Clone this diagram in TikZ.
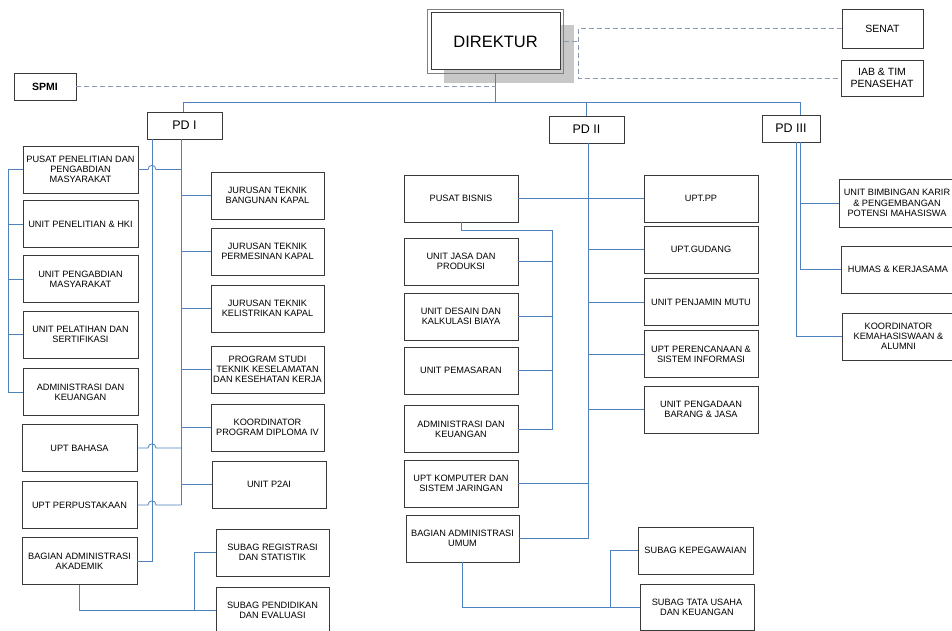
\documentclass[tikz,border=0pt]{standalone}
\usepackage{fontspec}
\setmainfont{Liberation Sans}
\usetikzlibrary{backgrounds}
\definecolor{lnblue}{HTML}{4F81BD}
\definecolor{dashc}{HTML}{8A9BB3}
\definecolor{bord}{HTML}{3A3A3A}
\definecolor{shad}{HTML}{C8C8C8}
\begin{document}
\begin{tikzpicture}[x=1pt,y=-1pt,
  box/.style={draw=bord, line width=0.8pt, fill=white, align=center, inner sep=1pt,
    font=\fontsize{9.2}{10.2}\selectfont, minimum width=114pt, minimum height=47pt},
  pdbox/.style={draw=bord, line width=0.8pt, fill=white, inner sep=1pt,
    font=\fontsize{12.5}{14}\selectfont, minimum width=75pt, minimum height=27pt},
  topbox/.style={draw=bord, line width=0.8pt, fill=white, align=center, inner sep=1pt,
    font=\fontsize{10.5}{12}\selectfont},
  ln/.style={draw=lnblue, line width=0.8pt},
  dl/.style={draw=dashc, line width=0.8pt, dash pattern=on 5pt off 3pt}]
\useasboundingbox (0,0) rectangle (952,631);

% top
\node[draw=bord, line width=1pt, fill=white,
  minimum width=129pt, minimum height=57pt, font=\fontsize{16.5}{18}\selectfont]
  (dir) at (495.5,41.5) {DIREKTUR};
\draw[draw=gray, line width=0.8pt] ([xshift=-3pt,yshift=3pt]dir.north west) rectangle ([xshift=3pt,yshift=-3pt]dir.south east);
\node[topbox, minimum width=81pt, minimum height=39pt] (senat) at (882.5,28.5) {SENAT};
\node[topbox, minimum width=82pt, minimum height=36pt] (iab) at (882,78) {IAB \& TIM\\PENASEHAT};
\node[topbox, minimum width=62pt, minimum height=27pt, font=\fontsize{10.5}{12}\selectfont\bfseries] (spmi) at (45,86.5) {SPMI};

\node[pdbox] (pd1) at (184.5,125.5) {PD I};
\node[pdbox] (pd2) at (586.5,129.5) {PD II};
\node[pdbox, minimum width=58pt] (pd3) at (791,128.5) {PD III};

% PD I left column
\node[box, minimum width=115pt] (a1) at (80.5,169.5) {PUSAT PENELITIAN DAN\\PENGABDIAN\\MASYARAKAT};
\node[box, minimum width=115pt] (a2) at (80.5,224) {UNIT PENELITIAN \& HKI};
\node[box, minimum width=115pt] (a3) at (80.5,279) {UNIT PENGABDIAN\\MASYARAKAT};
\node[box, minimum width=115pt] (a4) at (80.5,334.5) {UNIT PELATIHAN DAN\\SERTIFIKASI};
\node[box, minimum width=115pt] (a5) at (80.5,392) {ADMINISTRASI DAN\\KEUANGAN};
\node[box, minimum width=115pt] (a6) at (79.5,448) {UPT BAHASA};
\node[box, minimum width=115pt] (a7) at (79.5,505) {UPT PERPUSTAKAAN};
\node[box, minimum width=115pt] (a8) at (79.5,561) {BAGIAN ADMINISTRASI\\AKADEMIK};

% PD I right column
\node[box, minimum width=113pt] (b1) at (267.5,195.5) {JURUSAN TEKNIK\\BANGUNAN KAPAL};
\node[box, minimum width=113pt] (b2) at (267.5,251.5) {JURUSAN TEKNIK\\PERMESINAN KAPAL};
\node[box, minimum width=113pt] (b3) at (267.5,308.5) {JURUSAN TEKNIK\\KELISTRIKAN KAPAL};
\node[box, minimum width=113pt] (b4) at (267.5,369.5) {PROGRAM STUDI\\TEKNIK KESELAMATAN\\DAN KESEHATAN KERJA};
\node[box, minimum width=113pt] (b5) at (267.5,427.5) {KOORDINATOR\\PROGRAM DIPLOMA IV};
\node[box, minimum width=114pt] (b6) at (269,484.5) {UNIT P2AI};
\node[box, minimum width=113pt] (s1) at (272.5,552.5) {SUBAG REGISTRASI\\DAN STATISTIK};
\node[box, minimum width=113pt] (s2) at (272.5,610.5) {SUBAG PENDIDIKAN\\DAN EVALUASI};

% PD II left column
\node[box] (c1) at (461,198.5) {PUSAT BISNIS};
\node[box] (c2) at (461,261.5) {UNIT JASA DAN\\PRODUKSI};
\node[box] (c3) at (461,316.5) {UNIT DESAIN DAN\\KALKULASI BIAYA};
\node[box] (c4) at (461,370.5) {UNIT PEMASARAN};
\node[box] (c5) at (461,429) {ADMINISTRASI DAN\\KEUANGAN};
\node[box] (c6) at (461,483.5) {UPT KOMPUTER DAN\\SISTEM JARINGAN};
\node[box, minimum width=113pt] (c7) at (462.5,538.5) {BAGIAN ADMINISTRASI\\UMUM};

% PD II right column
\node[box] (d1) at (701,198.5) {UPT.PP};
\node[box] (d2) at (701,249.5) {UPT.GUDANG};
\node[box] (d3) at (701,302) {UNIT PENJAMIN MUTU};
\node[box] (d4) at (701,354) {UPT PERENCANAAN \&\\SISTEM INFORMASI};
\node[box] (d5) at (701,409.5) {UNIT PENGADAAN\\BARANG \& JASA};
\node[box, minimum width=115pt] (e1) at (695.5,550.5) {SUBAG KEPEGAWAIAN};
\node[box, minimum height=46pt] (e2) at (697,607.5) {SUBAG TATA USAHA\\DAN KEUANGAN};

% PD III
\node[box, minimum width=116pt, minimum height=48pt] (f1) at (897,203) {UNIT BIMBINGAN KARIR\\\& PENGEMBANGAN\\POTENSI MAHASISWA};
\node[box, minimum width=114pt] (f2) at (898,269.5) {HUMAS \& KERJASAMA};
\node[box, minimum width=113pt] (f3) at (898.5,336.5) {KOORDINATOR\\KEMAHASISWAAN \&\\ALUMNI};

% helper coordinates
\coordinate (H1) at (183,102);
\coordinate (H3) at (800,102);
\coordinate (K) at (578,0);
\coordinate (L0) at (8,0);
\coordinate (L1) at (152,0);
\coordinate (L2) at (181,0);
\coordinate (R) at (194,610.5);
\coordinate (M) at (588,0);
\coordinate (N) at (552,230);
\coordinate (Q) at (610,607.5);
\coordinate (T1) at (800,0);
\coordinate (T2) at (796,0);

% top connectors
\draw[ln] ([yshift=-3pt]dir.south) -- (dir.south |- H1);
\draw[ln] (pd1.north -| H1) -- (H1) -- (H3) -- (H3 |- pd3.north);
\draw[ln] (pd2.north) -- (pd2.north |- H1);
\draw[dl] (spmi.east) -- (spmi.east -| dir.south);
\draw[dl] ([xshift=3pt]dir.east) -- (K |- dir.east);
\draw[dl] (senat.west) -- (K |- senat.west) -- (K |- iab.west) -- (iab.west);

% PD I connectors
\draw[ln] (L0 |- a1.west) -- (L0 |- a5.west);
\foreach \n in {a1,a2,a3,a4,a5} \draw[ln] (L0 |- \n.west) -- (\n.west);
\draw[ln] (L1 |- pd1.south) -- (L1 |- a8.east) -- (a8.east);
\draw[ln] (L2 |- pd1.south) -- (L2 |- a7.east);
\foreach \n in {b1,b2,b3,b4,b5,b6} \draw[ln] (L2 |- \n.west) -- (\n.west);
\foreach \n in {a1,a6,a7}
  \draw[ln] (L2 |- \n.east) -- ++(-25,0) .. controls +(0,-5.5) and +(0,-5.5) .. ++(-8,0) -- (\n.east);
\draw[ln] (a8.south) -- (a8.south |- R) -- (R) -- (R |- s1.west) -- (s1.west);
\draw[ln] (R) -- (s2.west);

% PD II connectors
\draw[ln] (M |- pd2.south) -- (M |- c7.east) -- (c7.east);
\draw[ln] (c1.east) -- (d1.west);
\foreach \n in {d2,d3,d4,d5} \draw[ln] (M |- \n.west) -- (\n.west);
\draw[ln] (c6.east) -- (M |- c6.east);
\draw[ln] (c1.south) -- (c1.south |- N) -- (N) -- (N |- c5.east) -- (c5.east);
\foreach \n in {c2,c3,c4} \draw[ln] (\n.east) -- (N |- \n.east);
\draw[ln] (c7.south) -- (c7.south |- Q) -- (Q) -- (Q |- e1.west) -- (e1.west);
\draw[ln] (Q) -- (e2.west);

% PD III connectors
\draw[ln] (T1 |- pd3.south) -- (T1 |- f2.west) -- (f2.west);
\draw[ln] (T1 |- f1.west) -- (f1.west);
\draw[ln] (T2 |- pd3.south) -- (T2 |- f3.west) -- (f3.west);

\begin{scope}[on background layer]
  \fill[white] (0,0) rectangle (952,631);
  \fill[shad] ([xshift=13pt,yshift=-13pt]dir.south west) rectangle ([xshift=13pt,yshift=-13pt]dir.north east);
\end{scope}
\end{tikzpicture}
\end{document}
